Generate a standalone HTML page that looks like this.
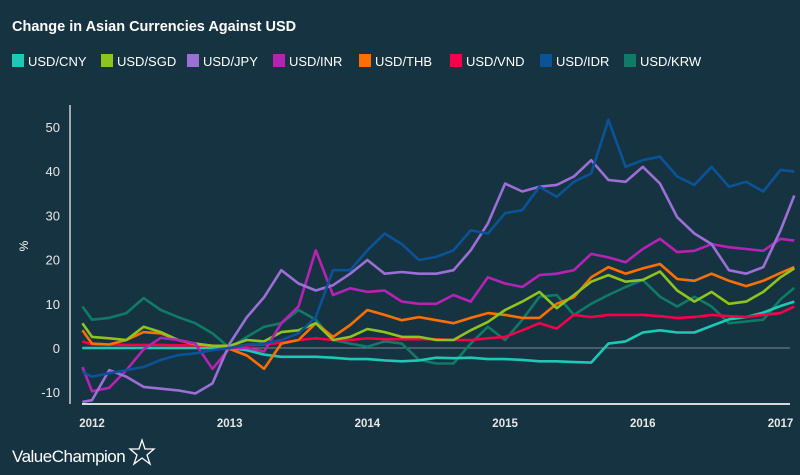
<!DOCTYPE html>
<html><head><meta charset="utf-8">
<style>
html,body{margin:0;padding:0;background:#163341;}
#wrap{position:relative;width:800px;height:475px;background:#163341;overflow:hidden;font-family:"Liberation Sans",sans-serif;}
</style></head>
<body>
<div id="wrap">
<svg id="chart" width="800" height="475" xmlns="http://www.w3.org/2000/svg">
<text x="12" y="31" fill="#ffffff" font-size="14.5" font-weight="bold" font-family="Liberation Sans, sans-serif">Change in Asian Currencies Against USD</text>
<g id="legend"></g>
<g id="yticks"></g>
<g id="xticks"></g>
<text x="28" y="246" fill="#ffffff" font-size="12" text-anchor="middle" transform="rotate(-90 28 246)">%</text>
<line x1="70" y1="105" x2="70" y2="404" stroke="#d0d0d0" stroke-width="1.5"/>
<line x1="82" y1="348" x2="790" y2="348" stroke="#7a8a92" stroke-width="1"/>
<g id="lines"></g>
<line x1="82" y1="404" x2="790" y2="404" stroke="#d8d8d8" stroke-width="2"/>
<text x="12" y="462" fill="#ffffff" font-size="17" font-family="Liberation Sans, sans-serif" letter-spacing="-0.5">ValueChampion</text>
<polygon points="142,440 145,449 154,449 147,455 150,464 142,458 134,464 137,455 130,449 139,449" fill="none" stroke="#ffffff" stroke-width="1.3"/>
</svg>
</div>
<script>
const dates = [2011.93,2012.0,2012.125,2012.25,2012.375,2012.5,2012.625,2012.75,2012.875,2013.0,2013.125,2013.25,2013.375,2013.5,2013.625,2013.75,2013.875,2014.0,2014.125,2014.25,2014.375,2014.5,2014.625,2014.75,2014.875,2015.0,2015.125,2015.25,2015.375,2015.5,2015.625,2015.75,2015.875,2016.0,2016.125,2016.25,2016.375,2016.5,2016.625,2016.75,2016.875,2017.0,2017.1];
const seriesNames = ["USD/CNY","USD/SGD","USD/JPY","USD/INR","USD/THB","USD/VND","USD/IDR","USD/KRW"];
const cny = [0,0,0,0,0,0,0,0,0,0,-0.5,-1.5,-2,-2,-2,-2.2,-2.5,-2.5,-2.8,-3,-2.8,-2.2,-2.3,-2.2,-2.5,-2.5,-2.7,-3,-3,-3.2,-3.3,1,1.5,3.5,4,3.5,3.5,5,6.5,7,8,9.5,10.5];
const sgd = [5.6,2.5,2.2,1.8,4.8,3.6,1.8,1,0.5,0.5,1.8,1.5,3.6,4,5.6,1.8,2.5,4.3,3.6,2.5,2.5,1.8,1.8,4,5.9,8.6,10.5,12.7,9,12,15,16.5,15,15.4,17.3,13,10.5,12.7,10,10.5,12.7,16,18];
const jpy = [-12.2,-11.8,-5,-6.5,-8.8,-9.2,-9.6,-10.3,-8,1,7,11.5,17.6,14.6,13,14.2,16.8,19.9,16.8,17.2,16.8,16.8,17.6,22.1,28.2,37.2,35.4,36.5,36.9,38.8,42.5,38,37.6,41,37.2,29.6,25.9,23.5,17.6,16.8,18.3,26.6,34.5];
const inr = [-4.3,-9.8,-9,-5,-0.3,2.3,1.8,1,-4.7,0,0,-0.8,5.6,9.4,22.1,12,13.5,12.7,13,10.5,10,10,12,10.5,16,14.6,13.8,16.5,16.8,17.6,21.3,20.5,19.4,22.4,24.7,21.7,22,23.5,22.8,22.4,22,24.7,24.3];
const thb = [4,1,0.8,1.8,3.6,3.3,1.8,0.8,0.5,-0.2,-1.7,-4.7,1,1.8,5.6,2.5,5.2,8.6,7.5,6.3,7,6.3,5.6,6.8,7.9,7.5,6.8,6.8,10,11.5,16,18.3,16.8,18,19,15.6,15.2,16.8,15.2,14,15.2,17,18.3];
const vnd = [1.5,0.8,0.8,0.7,0.7,0.7,0.6,0.6,0.5,0.5,0.6,0.8,1.2,1.8,2.2,1.8,1.8,2.2,2,2,2,2,1.8,1.8,2.2,2.5,4,5.6,4.4,7.5,7,7.5,7.5,7.5,7.2,6.8,7,7.5,7.2,7,7.5,7.9,9.4];
const idr = [-5.4,-6.5,-5.7,-5,-4.3,-2.7,-1.6,-1.2,-0.5,0,0.8,1,1.8,3.3,7,17.6,17.6,22.1,25.9,23.5,19.9,20.6,22.1,26.6,25.9,30.5,31.2,36.5,34.2,37.6,39.5,51.6,41,42.5,43.3,38.8,36.9,41,36.5,37.6,35.4,40.3,39.9];
const krw = [9.4,6.4,6.8,7.9,11.3,8.6,7,5.6,3.3,0,2.5,4.8,5.6,8.6,6.4,1.8,1,0.3,1.5,1,-2.7,-3.5,-3.5,1,4.8,1.8,6.4,11.6,12,7.5,10,12,13.8,15.4,11.6,9.4,11.6,9.4,5.6,6,6.4,11,13.6];
const yTickValues = [-10,0,10,20,30,40,50];
const xTickValues = [2012,2013,2014,2015,2016,2017];
const xTickLabels = ["2012","2013","2014","2015","2016","2017"];

const NS = "http://www.w3.org/2000/svg";
function xScale(t){ return 92 + 137.7*(t-2012); }
function yScale(v){ return 348 - 4.42*v; }

const yt = document.getElementById('yticks');
yTickValues.forEach(v=>{
  const t = document.createElementNS(NS,'text');
  t.setAttribute('x',60); t.setAttribute('y',yScale(v)+5);
  t.setAttribute('fill','#e6e6e6'); t.setAttribute('font-size','13');
  t.setAttribute('text-anchor','end');
  
  
  t.textContent = v; yt.appendChild(t);
});
const xt = document.getElementById('xticks');
xTickValues.forEach((v,i)=>{
  const t = document.createElementNS(NS,'text');
  t.setAttribute('x',xScale(v)); t.setAttribute('y',427);
  t.setAttribute('fill','#e6e6e6'); t.setAttribute('font-size','11.5');
  t.setAttribute('font-weight','bold');
  t.setAttribute('text-anchor','middle');
  
  
  t.textContent = xTickLabels[i]; xt.appendChild(t);
});

const colors = {"USD/CNY":"#1ec8b4","USD/SGD":"#8fc31f","USD/JPY":"#9b6fd6","USD/INR":"#b523b5","USD/THB":"#ff6f00","USD/VND":"#f5004a","USD/IDR":"#0b5397","USD/KRW":"#0f7a66"};
const dataMap = {"USD/CNY":cny,"USD/SGD":sgd,"USD/JPY":jpy,"USD/INR":inr,"USD/THB":thb,"USD/VND":vnd,"USD/IDR":idr,"USD/KRW":krw};

const lg = document.getElementById('legend');
const legendX = [12,101,187,273,359,450,540,624];
seriesNames.forEach((n,i)=>{
  const g = document.createElementNS(NS,'g');
  
  
  const r = document.createElementNS(NS,'rect');
  r.setAttribute('x',legendX[i]); r.setAttribute('y',54);
  r.setAttribute('width',12); r.setAttribute('height',13);
  r.setAttribute('fill',colors[n]);
  g.appendChild(r);
  const t = document.createElementNS(NS,'text');
  t.setAttribute('x',legendX[i]+16); t.setAttribute('y',66);
  t.setAttribute('fill','#ffffff'); t.setAttribute('font-size','13');
  t.textContent = n; g.appendChild(t);
  lg.appendChild(g);
});

const order = ["USD/KRW","USD/CNY","USD/VND","USD/THB","USD/SGD","USD/INR","USD/JPY","USD/IDR"];
const lines = document.getElementById('lines');
order.forEach(n=>{
  const vals = dataMap[n];
  const d = vals.map((v,i)=>(i?'L':'M')+xScale(dates[i]).toFixed(1)+' '+yScale(v).toFixed(1)).join(' ');
  const p = document.createElementNS(NS,'path');
  p.setAttribute('d',d); p.setAttribute('fill','none');
  p.setAttribute('stroke',colors[n]); p.setAttribute('stroke-width','2.6');
  p.setAttribute('stroke-linejoin','round');
  
  
  lines.appendChild(p);
});
</script>
</body></html>
